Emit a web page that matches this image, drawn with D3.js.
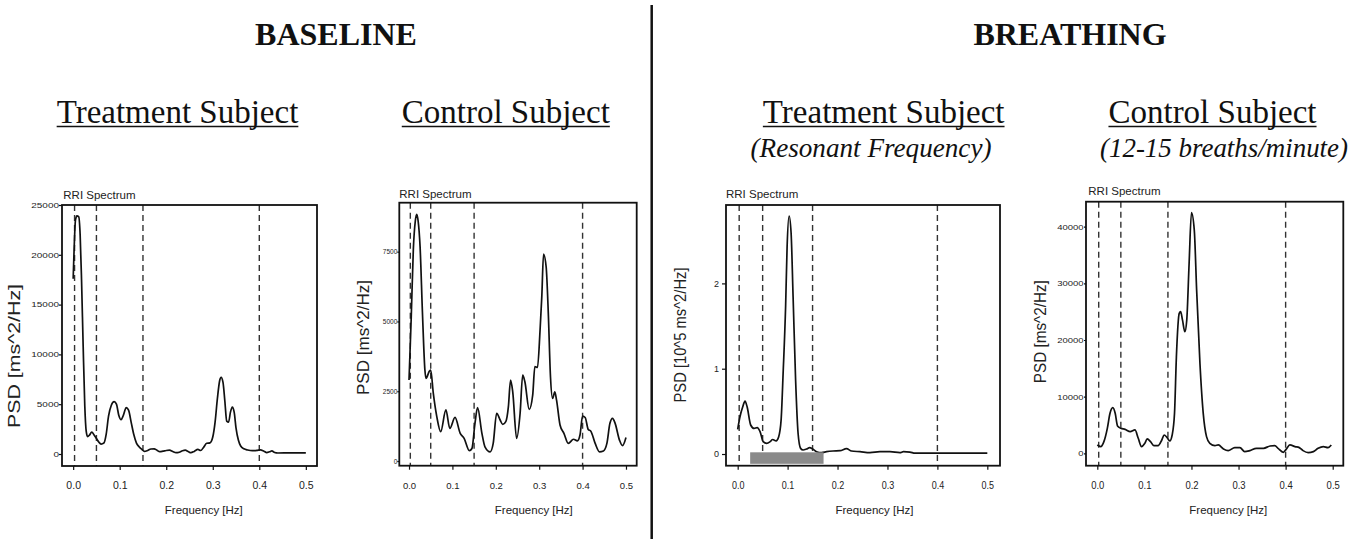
<!DOCTYPE html>
<html>
<head>
<meta charset="utf-8">
<script src="https://cdn.jsdelivr.net/npm/d3@7"></script>
<style>
body { margin: 0; background: #fff; }
svg { display: block; }
</style>
</head>
<body>
<svg width="1363" height="539"></svg>
<script>
// ---- data ----
var bandLines = [0.003, 0.05, 0.15, 0.4];
var xTicks = [0, 0.1, 0.2, 0.3, 0.4, 0.5];

// baseline, treatment subject
var baseTreatFreq = [0.000, 0.002, 0.005, 0.008, 0.012, 0.015, 0.018, 0.0215, 0.025, 0.028, 0.031, 0.035, 0.040, 0.045, 0.050,
  0.055, 0.060, 0.066, 0.071, 0.076, 0.082, 0.088, 0.093, 0.098, 0.103, 0.108, 0.114, 0.119, 0.125, 0.130, 0.136, 0.142,
  0.148, 0.153, 0.160, 0.167, 0.174, 0.180, 0.186, 0.193, 0.200, 0.207, 0.214, 0.221, 0.228, 0.235, 0.241, 0.247, 0.253,
  0.260, 0.268, 0.274, 0.280, 0.287, 0.294, 0.300, 0.305, 0.310, 0.315, 0.318, 0.322, 0.326, 0.330, 0.334, 0.338, 0.342,
  0.346, 0.350, 0.355, 0.360, 0.367, 0.375, 0.385, 0.395, 0.402, 0.410, 0.416, 0.422, 0.427, 0.433, 0.440, 0.460, 0.480, 0.500];
var baseTreatPsd = [17600, 20500, 23500, 23900, 23800, 22000, 17500, 10800, 4800, 2300, 1750, 1900, 2200, 1900, 1550,
  1200, 1000, 1100, 2000, 3800, 4900, 5250, 5000, 3900, 3450, 3900, 4650, 4400, 3100, 2000, 1100, 700,
  450, 260, 350, 500, 520, 380, 230, 280, 350, 380, 250, 130, 180, 330, 380, 250, 130,
  260, 460, 350, 650, 1080, 1120, 1700, 3200, 5600, 7400, 7700, 7200, 5300, 3300, 3200, 4200, 4700,
  4200, 2600, 1400, 800, 520, 400, 330, 360, 420, 280, 140, 220, 310, 150, 100, 110, 120, 120];
var baseTreatTicks = [0, 5000, 10000, 15000, 20000, 25000];

// baseline, control subject
var baseCtrlFreq = [0.000, 0.005, 0.010, 0.0145, 0.0177, 0.021, 0.0255, 0.031, 0.0366, 0.039, 0.047, 0.050, 0.056, 0.064,
  0.073, 0.085, 0.094, 0.106, 0.118, 0.127, 0.139, 0.145, 0.152, 0.158, 0.168, 0.175, 0.187, 0.194, 0.202, 0.210, 0.216,
  0.223, 0.229, 0.234, 0.239, 0.248, 0.256, 0.262, 0.267, 0.277, 0.285, 0.290, 0.296, 0.302, 0.306, 0.310, 0.316, 0.321,
  0.326, 0.331, 0.336, 0.340, 0.348, 0.357, 0.367, 0.379, 0.388, 0.394, 0.400, 0.406, 0.413, 0.419, 0.429, 0.439, 0.448,
  0.456, 0.463, 0.469, 0.475, 0.485, 0.492, 0.500];
var baseCtrlPsd = [2900, 5100, 7600, 8600, 8840, 8600, 7680, 5290, 3260, 2960, 3220, 3260, 2420, 1590,
  1050, 1830, 1170, 1560, 990, 810, 370, 450, 1350, 1910, 990, 510, 330, 630, 1710, 1470, 1310,
  1410, 1950, 2900, 2480, 810, 1710, 3080, 2840, 1850, 2360, 3380, 3350, 4690, 5890, 7410, 6960, 5290,
  3020, 2240, 2480, 2180, 1290, 990, 630, 780, 720, 930, 1610, 1560, 1130, 1070, 630, 330, 360,
  630, 1350, 1530, 1350, 750, 550, 840];
var baseCtrlTicks = [0, 2500, 5000, 7500];

// breathing, treatment subject (resonant frequency)
var breathTreatFreq = [0.000, 0.0047, 0.010, 0.0147, 0.019, 0.026, 0.033, 0.039, 0.045, 0.051, 0.058, 0.065, 0.070, 0.077,
  0.082, 0.087, 0.091, 0.096, 0.099, 0.103, 0.107, 0.111, 0.116, 0.121, 0.126, 0.131, 0.138, 0.144, 0.151, 0.158, 0.168,
  0.178, 0.191, 0.205, 0.218, 0.228, 0.245, 0.265, 0.285, 0.305, 0.325, 0.332, 0.345, 0.355, 0.400, 0.450, 0.500];
var breathTreatPsd = [0.29, 0.44, 0.55, 0.62, 0.55, 0.34, 0.30, 0.31, 0.26, 0.145, 0.125, 0.145, 0.17, 0.155,
  0.20, 0.40, 0.945, 1.73, 2.43, 2.79, 2.59, 1.84, 0.87, 0.24, 0.066, 0.047, 0.059, 0.074, 0.055, 0.027, 0.016,
  0.027, 0.035, 0.039, 0.063, 0.035, 0.027, 0.016, 0.027, 0.027, 0.016, 0.027, 0.023, 0.010, 0.010, 0.010, 0.010];
var breathTreatTicks = [0, 1, 2];
var resonantBand = [0.025, 0.172];
var resonantBandPsd = [-0.115, 0.02];

// breathing, control subject (12-15 breaths/minute)
var breathCtrlFreq = [0.000, 0.0071, 0.014, 0.0213, 0.027, 0.033, 0.038, 0.043, 0.050, 0.059, 0.070, 0.080, 0.087, 0.094,
  0.101, 0.106, 0.113, 0.120, 0.129, 0.137, 0.142, 0.148, 0.154, 0.159, 0.164, 0.168, 0.174, 0.177, 0.181, 0.186, 0.190,
  0.195, 0.200, 0.206, 0.211, 0.218, 0.225, 0.232, 0.239, 0.250, 0.257, 0.268, 0.278, 0.292, 0.303, 0.313, 0.324, 0.338,
  0.353, 0.367, 0.377, 0.384, 0.395, 0.401, 0.409, 0.420, 0.429, 0.437, 0.448, 0.459, 0.469, 0.480, 0.490, 0.497];
var breathCtrlPsd = [1470, 1180, 2060, 4410, 7060, 8060, 7060, 4820, 4410, 4230, 3820, 4120, 2650, 1180,
  1760, 2530, 2060, 1350, 1350, 2350, 3230, 2820, 2180, 3230, 7060, 17050, 24700, 25000, 23500, 21460, 23500,
  33500, 42500, 39400, 28800, 15900, 7060, 2940, 1760, 1350, 1470, 760, 470, 1000, 1000, 290, 470, 880,
  880, 1290, 1350, 880, 180, 700, 1470, 1180, 1000, 470, 120, 290, 880, 1180, 1000, 1470];
var breathCtrlTicks = [0, 10000, 20000, 30000, 40000];

var conditionTitles = ["BASELINE", "BREATHING"];
var subjectTitles = ["Treatment Subject", "Control Subject", "Treatment Subject", "Control Subject"];
var subjectNotes = ["", "", "(Resonant Frequency)", "(12-15 breaths/minute)"];
var yLabels = ["PSD [ms^2/Hz]", "PSD [ms^2/Hz]", "PSD [10^5 ms^2/Hz]", "PSD [ms^2/Hz]"];

// ---- layout ----
var panels = [
  { freq: baseTreatFreq, psd: baseTreatPsd, ticks: baseTreatTicks,
    box: [62, 205, 317, 466], xDom: [-0.024, 0.524], yDom: [-1205, 25000],
    yt: { size: 3, pad: 0, font: 10, sy: 0.7 }, xt: { font: 10.5, sy: 1 },
    spec: [63.3, 199.3], xlab: 203.8, ylab: [20, 356, 144] },
  { freq: baseCtrlFreq, psd: baseCtrlPsd, ticks: baseCtrlTicks,
    box: [399.3, 202.7, 636.7, 465.7], xDom: [-0.0224, 0.5247], yDom: [-168, 9255],
    yt: { size: 2, pad: 0, font: 6.5, sy: 1 }, xt: { font: 9.5, sy: 1 },
    spec: [399.3, 198.3], xlab: 533.8, ylab: [369.3, 337.5, 115] },
  { freq: breathTreatFreq, psd: breathTreatPsd, ticks: breathTreatTicks,
    box: [726, 205, 1000, 465.7], xDom: [-0.0234, 0.5254], yDom: [-0.137, 2.919],
    yt: { size: 4, pad: 3, font: 9, sy: 1 }, xt: { font: 9, sy: 1.12 },
    spec: [726, 198.3], xlab: 874.5, ylab: [686, 335, 135], band: true },
  { freq: breathCtrlFreq, psd: breathCtrlPsd, ticks: breathCtrlTicks,
    box: [1086, 201.7, 1343.3, 465.7], xDom: [-0.024, 0.5225], yDom: [-2189, 44415],
    yt: { size: 2, pad: 0.5, font: 9.5, sy: 0.85 }, xt: { font: 9.5, sy: 1.1 },
    spec: [1088.3, 195], xlab: 1228.3, ylab: [1046, 331.7, 103] }
];
var titleX = [177.5, 505.8, 883.7, 1212.5];
var noteX = [0, 0, 871, 1224];
var noteLen = [0, 0, 241, 248];
var conditionX = [336, 1070];

var svg = d3.select("svg");
var serif = "'Liberation Serif', 'Times New Roman', serif";
var sans = "'Liberation Sans', Arial, Helvetica, sans-serif";

// headers
conditionTitles.forEach(function(t, i) {
  svg.append("text").attr("x", conditionX[i]).attr("y", 45)
    .attr("text-anchor", "middle").attr("font-family", serif)
    .attr("font-weight", "bold").attr("font-size", 32).attr("fill", "#111").text(t);
});

subjectTitles.forEach(function(t, i) {
  var tx = svg.append("text").attr("x", titleX[i]).attr("y", 122.7)
    .attr("text-anchor", "middle").attr("font-family", serif)
    .attr("font-size", 33).attr("fill", "#111").text(t);
  var w = tx.node().getComputedTextLength();
  svg.append("line")
    .attr("x1", titleX[i] - w / 2).attr("x2", titleX[i] + w / 2)
    .attr("y1", 126.5).attr("y2", 126.5)
    .attr("stroke", "#111").attr("stroke-width", 1.6);
  if (subjectNotes[i]) {
    svg.append("text").attr("x", noteX[i]).attr("y", 156.7)
      .attr("text-anchor", "middle").attr("font-family", serif)
      .attr("font-style", "italic").attr("font-size", 28)
      .attr("textLength", noteLen[i]).attr("lengthAdjust", "spacingAndGlyphs")
      .attr("fill", "#111").text(subjectNotes[i]);
  }
});

// divider
svg.append("line").attr("x1", 651.7).attr("x2", 651.7).attr("y1", 5).attr("y2", 539)
  .attr("stroke", "#111").attr("stroke-width", 2.5);

panels.forEach(function(p, i) {
  var b = p.box;
  var x = d3.scaleLinear().domain(p.xDom).range([b[0], b[2]]);
  var y = d3.scaleLinear().domain(p.yDom).range([b[3], b[1]]);
  var g = svg.append("g");
  var clipId = "clip" + i;

  g.append("clipPath").attr("id", clipId).append("rect")
    .attr("x", b[0]).attr("y", b[1]).attr("width", b[2] - b[0]).attr("height", b[3] - b[1]);

  // band boundaries
  g.selectAll("line.band").data(bandLines).enter().append("line")
    .attr("class", "band")
    .attr("x1", function(d) { return x(d); }).attr("x2", function(d) { return x(d); })
    .attr("y1", b[1]).attr("y2", b[3])
    .attr("stroke", "#333").attr("stroke-width", 1.4).attr("stroke-dasharray", "6,4");

  var pts = p.freq.map(function(f, j) { return [f, p.psd[j]]; });
  var line = d3.line()
    .x(function(d) { return x(d[0]); })
    .y(function(d) { return y(d[1]); })
    .curve(d3.curveMonotoneX);
  g.append("path").datum(pts)
    .attr("clip-path", "url(#" + clipId + ")")
    .attr("d", line).attr("fill", "none")
    .attr("stroke", "#111").attr("stroke-width", 1.7);

  if (p.band) {
    g.append("rect")
      .attr("x", x(resonantBand[0])).attr("width", x(resonantBand[1]) - x(resonantBand[0]))
      .attr("y", y(resonantBandPsd[1])).attr("height", y(resonantBandPsd[0]) - y(resonantBandPsd[1]))
      .attr("fill", "#8a8a8a");
  }

  g.append("rect").attr("x", b[0]).attr("y", b[1])
    .attr("width", b[2] - b[0]).attr("height", b[3] - b[1])
    .attr("fill", "none").attr("stroke", "#111").attr("stroke-width", 1.8);

  // y axis
  var ya = g.append("g").attr("transform", "translate(" + b[0] + ",0)")
    .call(d3.axisLeft(y).tickValues(p.ticks).tickSize(p.yt.size).tickPadding(p.yt.pad)
      .tickFormat(d3.format("d")));
  ya.select(".domain").remove();
  ya.selectAll("line").attr("stroke", "#111").attr("stroke-width", 1.2);
  ya.selectAll("text").attr("font-family", sans).attr("font-size", p.yt.font)
    .attr("fill", "#222").attr("transform", "scale(1," + p.yt.sy + ")");

  // x axis
  var xa = g.append("g").attr("transform", "translate(0," + b[3] + ")")
    .call(d3.axisBottom(x).tickValues(xTicks).tickSize(4).tickFormat(d3.format(".1f")));
  xa.select(".domain").remove();
  xa.selectAll("line").attr("stroke", "#111").attr("stroke-width", 1.2);
  xa.selectAll("text").attr("font-family", sans).attr("font-size", p.xt.font)
    .attr("fill", "#222").attr("y", 0).attr("dy", 0)
    .attr("transform", "translate(0," + (489 - b[3]) + ") scale(1," + p.xt.sy + ")");

  g.append("text").attr("x", p.spec[0]).attr("y", p.spec[1])
    .attr("font-family", sans).attr("font-size", 11.5).attr("fill", "#222")
    .text("RRI Spectrum");

  g.append("text").attr("x", p.xlab).attr("y", 514)
    .attr("text-anchor", "middle").attr("font-family", sans).attr("font-size", 11.5)
    .attr("textLength", 78).attr("lengthAdjust", "spacingAndGlyphs")
    .attr("fill", "#222").text("Frequency [Hz]");

  g.append("text")
    .attr("transform", "translate(" + p.ylab[0] + "," + p.ylab[1] + ") rotate(-90)")
    .attr("text-anchor", "middle").attr("font-family", sans).attr("font-size", 17)
    .attr("textLength", p.ylab[2]).attr("lengthAdjust", "spacingAndGlyphs")
    .attr("fill", "#222").text(yLabels[i]);
});
</script>
</body>
</html>
